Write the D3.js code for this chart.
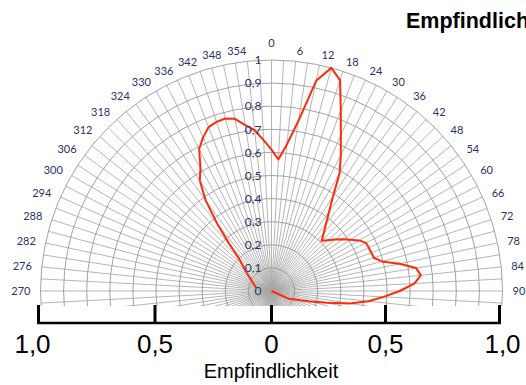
<!DOCTYPE html>
<html>
<head>
<meta charset="utf-8">
<script src="https://cdn.jsdelivr.net/npm/d3@7"></script>
<style>
  html, body { margin: 0; padding: 0; background: #fff; }
  svg { display: block; }
</style>
</head>
<body>
<svg id="chart" width="526" height="385"></svg>
<script>
// Directional sensitivity, angle in degrees (0 = front, clockwise)
const angles = [
  282, 285, 288, 291, 294, 297, 300, 303, 306, 309, 312, 315, 318, 321, 324, 327,
  330, 333, 336, 339, 342, 345, 348, 351, 354, 357,
  0, 3, 6, 9, 12, 15, 18, 21, 24, 27, 30, 33, 36, 39, 42, 45, 48, 51, 54, 57,
  60, 63, 66, 69, 72, 75, 78, 81, 84, 87, 90, 93, 96, 99, 102, 105, 108, 111, 114, 117
];
const sensitivity = [
  0.068, 0.072, 0.077, 0.082, 0.088, 0.095, 0.105, 0.117, 0.132, 0.15, 0.17, 0.2, 0.27, 0.37, 0.485, 0.57,
  0.615, 0.69, 0.728, 0.76, 0.77, 0.773, 0.762, 0.727, 0.70, 0.654,
  0.612, 0.57, 0.638, 0.746, 0.93, 1.0, 0.96, 0.837, 0.738, 0.661, 0.59, 0.489, 0.424, 0.375, 0.338, 0.307,
  0.329, 0.354, 0.381, 0.407, 0.438, 0.459, 0.461, 0.463, 0.466, 0.494, 0.566, 0.634, 0.65, 0.619, 0.555,
  0.486, 0.422, 0.343, 0.246, 0.175, 0.13, 0.10, 0.086, 0
];

// Angle labels around the half circle
const angleTicks = [270, 276, 282, 288, 294, 300, 306, 312, 318, 324, 330, 336, 342, 348, 354,
                    0, 6, 12, 18, 24, 30, 36, 42, 48, 54, 60, 66, 72, 78, 84, 90];
// Radial rings and their labels
const ringValues = [0, 0.1, 0.2, 0.3, 0.4, 0.5, 0.6, 0.7, 0.8, 0.9, 1];
const ringLabels = ["0", "0,1", "0,2", "0,3", "0,4", "0,5", "0,6", "0,7", "0,8", "0,9", "1"];
// Grid spokes every 3 degrees
const spokeAngles = d3.range(0, 360, 3);
// Horizontal sensitivity axis below the plot
const axisValues = [-1, -0.5, 0, 0.5, 1];
const axisLabels = ["1,0", "0,5", "0", "0,5", "1,0"];

const svg = d3.select("#chart");
const cx = 271.5, cy = 291, R = 231;
const labelFont = "Lato, 'Open Sans', sans-serif";
const labelColor = "#2b3168";

const r = d3.scaleLinear().domain([0, 1]).range([0, R]);
const rad = d => d * Math.PI / 180;

// everything of the polar grid below y = 306 is cut away
svg.append("defs").append("clipPath").attr("id", "plotClip")
  .append("rect").attr("x", -cx).attr("y", -cy).attr("width", 526).attr("height", 306);

const plot = svg.append("g")
  .attr("transform", `translate(${cx},${cy})`)
  .attr("clip-path", "url(#plotClip)");

// spokes
plot.append("g").selectAll("line").data(spokeAngles).join("line")
  .attr("x1", 0).attr("y1", 0)
  .attr("x2", d => r(1) * Math.sin(rad(d)))
  .attr("y2", d => -r(1) * Math.cos(rad(d)))
  .attr("stroke", "#a8a8a8").attr("stroke-width", 0.85);

// rings
plot.append("g").selectAll("circle").data(ringValues.filter(v => v > 0)).join("circle")
  .attr("r", d => r(d))
  .attr("fill", "none")
  .attr("stroke", "#999999").attr("stroke-width", 0.9);

// sensitivity curve
const pts = angles.map((a, i) => [rad(a), sensitivity[i]]);
const line = d3.lineRadial()
  .angle(d => d[0])
  .radius(d => r(d[1]))
  .curve(d3.curveLinear);
plot.append("path")
  .datum(pts)
  .attr("d", line)
  .attr("fill", "none")
  .attr("stroke", "#ff2a0a")
  .attr("stroke-width", 2)
  .attr("stroke-linejoin", "round");

// ring labels along the 0° spoke
const lab = svg.append("g").attr("transform", `translate(${cx},${cy})`);
lab.selectAll("text.ring").data(ringValues).join("text")
  .attr("class", "ring")
  .attr("x", -10)
  .attr("y", d => -r(d))
  .attr("dy", "0.35em")
  .attr("text-anchor", "end")
  .attr("font-family", labelFont)
  .attr("font-size", 12)
  .attr("fill", labelColor)
  .text((d, i) => ringLabels[i]);

// angle labels
const R0 = 241;
lab.selectAll("text.ang").data(angleTicks).join("text")
  .attr("class", "ang")
  .attr("x", d => R0 * Math.sin(rad(d)))
  .attr("y", d => -R0 * Math.cos(rad(d)))
  .attr("dy", d => d === 0 ? "-0.25em" : "0.35em")
  .attr("text-anchor", d => d === 0 ? "middle" : (d <= 180 ? "start" : "end"))
  .attr("font-family", labelFont)
  .attr("font-size", 11)
  .attr("fill", labelColor)
  .text(d => d);

// bottom axis
const x = d3.scaleLinear().domain([-1, 0, 1]).range([38.5, cx, 499.5]);
const axY = 323;
const ax = svg.append("g");
ax.append("line")
  .attr("x1", x(-1) - 1.5).attr("x2", x(1) + 1.5)
  .attr("y1", axY).attr("y2", axY)
  .attr("stroke", "#000").attr("stroke-width", 2.5);
ax.selectAll("line.tick").data(axisValues).join("line")
  .attr("class", "tick")
  .attr("x1", d => x(d)).attr("x2", d => x(d))
  .attr("y1", 305).attr("y2", axY)
  .attr("stroke", "#000").attr("stroke-width", 3);
ax.selectAll("text").data(axisValues).join("text")
  .attr("x", d => x(d))
  .attr("dx", (d, i) => i === 0 ? -6 : (i === axisValues.length - 1 ? 3 : 0))
  .attr("y", 352.5)
  .attr("text-anchor", "middle")
  .attr("font-family", "'Liberation Sans', Arial, sans-serif")
  .attr("font-size", 26)
  .attr("fill", "#000")
  .text((d, i) => axisLabels[i]);

svg.append("text")
  .attr("x", 271)
  .attr("y", 377.5)
  .attr("text-anchor", "middle")
  .attr("font-family", "'Liberation Sans', Arial, sans-serif")
  .attr("font-size", 20)
  .attr("fill", "#000")
  .text("Empfindlichkeit");

// title, running off the right edge of the page
svg.append("text")
  .attr("x", 406)
  .attr("y", 28.3)
  .attr("font-family", "'Liberation Sans', Arial, sans-serif")
  .attr("font-weight", "bold")
  .attr("font-size", 21.5)
  .attr("fill", "#000")
  .text("Empfindlichkeit");
</script>
</body>
</html>
